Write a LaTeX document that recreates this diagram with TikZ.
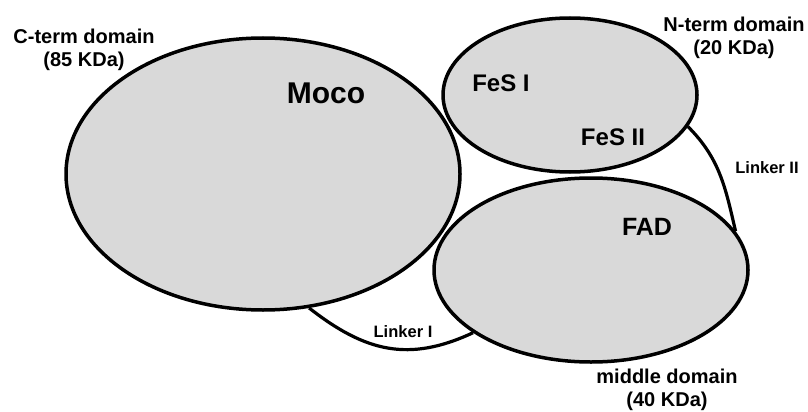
\documentclass[tikz,border=0pt]{standalone}
\usepackage{fontspec}
\setmainfont{Liberation Sans}
\usetikzlibrary{shapes.geometric,backgrounds}
\definecolor{domfill}{HTML}{D9D9D9}
\begin{document}
\begin{tikzpicture}[x=1pt,y=-1pt,
  domainbox/.style={ellipse,draw=black,fill=domfill,line width=3.5pt,inner sep=0pt},
  linker/.style={draw=black,line width=3.2pt},
  lbl/.style={font=\bfseries\fontsize{20}{23}\selectfont,align=center,inner sep=0pt},
  site/.style={font=\bfseries\fontsize{#1}{#1}\selectfont,inner sep=0pt},
  linklbl/.style={font=\bfseries\fontsize{16.5}{18}\selectfont,inner sep=0pt}]
\useasboundingbox (0,0) rectangle (808,412);
% domains
\node[domainbox,minimum width=394pt,minimum height=272pt] (cterm) at (263,174) {};
\node[domainbox,minimum width=254pt,minimum height=154pt] (nterm) at (570,95) {};
\node[domainbox,minimum width=314pt,minimum height=184pt] (middle) at (591,270) {};
% linkers
\begin{scope}[on background layer]
\fill[white] (0,0) rectangle (808,412);
\draw[linker] (cterm.-71) to[out=-38,in=205,looseness=1.1] (middle.-152);
\draw[linker] (nterm.-15) to[out=-45,in=103] (middle.15);
\end{scope}
% labels
\node[lbl] (clabel) at (84,50) {C-term domain\\(85 KDa)};
\node[lbl] (nlabel) at (734,38) {N-term domain\\(20 KDa)};
\node[lbl] (mlabel) at (667,390) {middle domain\\(40 KDa)};
\node[site=30] (moco) at (326,93) {Moco};
\node[site=24] (fes1) at (501,83) {FeS I};
\node[site=24] (fes2) at (613,137) {FeS II};
\node[site=25] (fad) at (647,227) {FAD};
\node[linklbl] (link1) at (403,332) {Linker I};
\node[linklbl] (link2) at (767,168) {Linker II};
\end{tikzpicture}
\end{document}
